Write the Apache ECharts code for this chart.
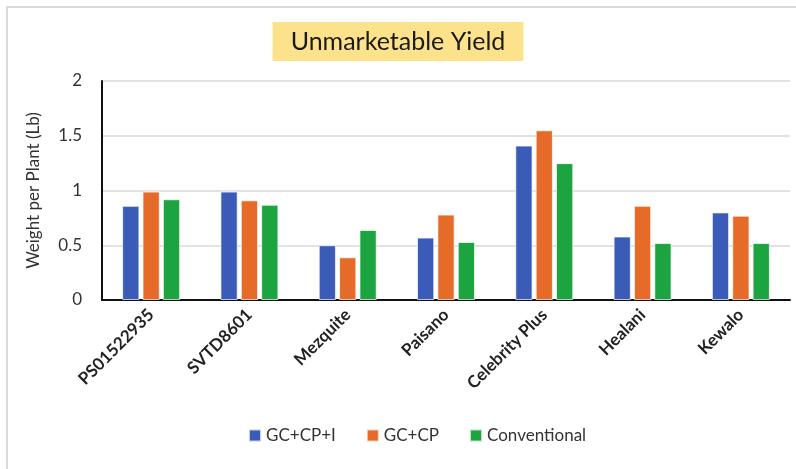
<!DOCTYPE html>
<html>
<head>
<meta charset="utf-8">
<script src="https://cdn.jsdelivr.net/npm/echarts@6/dist/echarts.min.js"></script>
<style>
  html, body { margin: 0; padding: 0; background: #fff; }
  #chart { width: 796px; height: 469px; }
</style>
</head>
<body>
<div id="chart"></div>
<script>
// data
var varieties = ['PS01522935', 'SVTD8601', 'Mezquite', 'Paisano', 'Celebrity Plus', 'Healani', 'Kewalo'];
var gcCpI = [0.86, 0.99, 0.50, 0.57, 1.41, 0.58, 0.80];
var gcCp = [0.99, 0.91, 0.39, 0.78, 1.55, 0.86, 0.77];
var conventional = [0.92, 0.87, 0.64, 0.53, 1.25, 0.52, 0.52];
var seriesNames = ['GC+CP+I', 'GC+CP', 'Conventional'];
var colors = ['#3a5cb8', '#e66a28', '#1ba43f'];

var font = 'Lato, "Open Sans", sans-serif';
var myChart = echarts.init(document.getElementById('chart'));

function barSeries(name, data, color) {
    return {
        name: name,
        type: 'bar',
        data: data,
        barGap: '18%',
        barCategoryGap: '41%',
        itemStyle: {
            color: color,
            borderColor: 'rgba(255,255,255,0.7)',
            borderWidth: 1
        }
    };
}

var option = {
    animation: false,
    color: colors,
    textStyle: { fontFamily: font },
    title: {
        text: 'Unmarketable Yield',
        left: 'center',
        top: 22,
        backgroundColor: '#fde28c',
        padding: [7, 18, 7, 18],
        textStyle: {
            color: '#1a1a1a',
            fontSize: 25,
            fontWeight: 'normal',
            fontFamily: font
        }
    },
    // light frame at top and left
    graphic: [{
        type: 'rect',
        shape: { x: 7, y: 7, width: 1000, height: 1000 },
        style: { fill: 'none', stroke: '#d9d9d9', lineWidth: 2 },
        silent: true
    }],
    legend: {
        data: seriesNames,
        bottom: 20,
        left: 243,
        icon: 'rect',
        itemWidth: 12,
        itemHeight: 12,
        itemGap: 30,
        textStyle: { fontSize: 17, color: '#333', fontFamily: font }
    },
    grid: {
        left: 102,
        right: 6,
        top: 81,
        bottom: 169
    },
    xAxis: {
        type: 'category',
        data: varieties,
        axisLine: { lineStyle: { color: '#111', width: 2 } },
        axisTick: { show: false },
        axisLabel: {
            interval: 0,
            rotate: 45,
            margin: 12,
            color: '#222',
            fontSize: 17,
            fontWeight: 'bold',
            fontFamily: font
        }
    },
    yAxis: {
        type: 'value',
        min: 0,
        max: 2,
        interval: 0.5,
        name: 'Weight per Plant (Lb)',
        nameLocation: 'middle',
        nameGap: 60,
        nameTextStyle: { fontSize: 17, color: '#333', fontFamily: font },
        axisLine: { show: true, lineStyle: { color: '#111', width: 2 } },
        axisTick: { show: false },
        axisLabel: { fontSize: 17, color: '#333', margin: 20, fontFamily: font },
        splitLine: { lineStyle: { color: '#d9d9d9', width: 1.5 } }
    },
    series: [
        barSeries(seriesNames[0], gcCpI, colors[0]),
        barSeries(seriesNames[1], gcCp, colors[1]),
        barSeries(seriesNames[2], conventional, colors[2])
    ]
};

option && myChart.setOption(option);
</script>
</body>
</html>
